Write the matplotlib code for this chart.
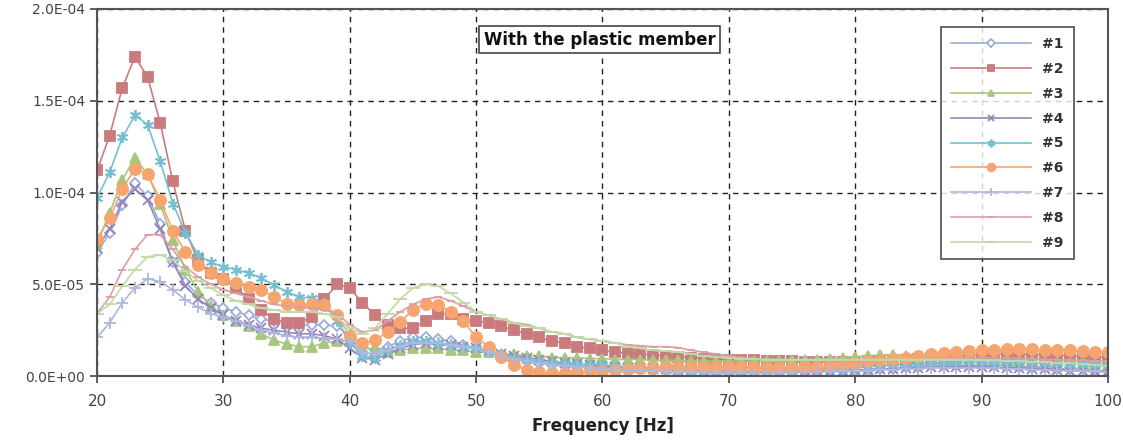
import matplotlib
matplotlib.use("Agg")
import matplotlib.pyplot as plt
from matplotlib.ticker import FuncFormatter

# frequencies [Hz]
freq = list(range(20, 101))

# amplitudes in units of 1e-5
s1 = [6.7, 7.8, 9.3, 10.5, 9.8, 8.3, 6.2, 5.1, 4.4, 4.0,
      3.7, 3.5, 3.3, 3.1, 3.0, 2.9, 2.8, 2.8, 2.8, 2.7,
      2.2, 1.6, 1.4, 1.6, 1.9, 2.1, 2.1, 2.0, 1.9, 1.7,
      1.5, 1.3, 1.1, 0.9, 0.8, 0.7, 0.6, 0.6, 0.5, 0.5,
      0.5, 0.4, 0.4, 0.4, 0.3, 0.3, 0.3, 0.3, 0.2, 0.2,
      0.2, 0.2, 0.2, 0.2, 0.2, 0.2, 0.2, 0.2, 0.3, 0.3,
      0.3, 0.3, 0.4, 0.4, 0.5, 0.5, 0.6, 0.6, 0.6, 0.6,
      0.6, 0.6, 0.6, 0.5, 0.5, 0.5, 0.4, 0.4, 0.4, 0.3,
      0.3]
s2 = [11.2, 13.1, 15.7, 17.4, 16.3, 13.8, 10.6, 7.9, 6.3, 5.6,
      5.3, 4.8, 4.2, 3.6, 3.1, 2.9, 2.9, 3.2, 4.2, 5.0,
      4.8, 4.0, 3.3, 2.8, 2.6, 2.6, 3.0, 3.4, 3.4, 3.1,
      3.0, 2.9, 2.7, 2.5, 2.3, 2.1, 1.9, 1.8, 1.6, 1.5,
      1.4, 1.3, 1.25, 1.2, 1.15, 1.1, 1.05, 1.0, 0.95, 0.9,
      0.9, 0.85, 0.85, 0.8, 0.8, 0.8, 0.75, 0.75, 0.75, 0.75,
      0.75, 0.8, 0.8, 0.85, 0.9, 0.95, 1.0, 1.05, 1.1, 1.15,
      1.15, 1.2, 1.2, 1.2, 1.2, 1.15, 1.15, 1.1, 1.1, 1.05,
      1.0]
s3 = [7.2, 8.9, 10.7, 11.9, 11.0, 9.4, 7.4, 5.8, 4.6, 3.8,
      3.3, 3.0, 2.7, 2.3, 1.95, 1.75, 1.6, 1.6, 1.8, 1.9,
      1.9, 1.6, 1.4, 1.3, 1.4, 1.5, 1.5, 1.5, 1.4, 1.4,
      1.3, 1.3, 1.2, 1.2, 1.1, 1.1, 1.0, 1.0, 1.0, 0.95,
      0.95, 0.9, 0.9, 0.9, 0.85, 0.85, 0.85, 0.8, 0.8, 0.8,
      0.8, 0.8, 0.8, 0.8, 0.8, 0.85, 0.85, 0.9, 0.95, 1.0,
      1.05, 1.1, 1.15, 1.15, 1.1, 1.05, 1.0, 1.0, 0.95, 0.9,
      0.9, 0.85, 0.85, 0.8, 0.8, 0.75, 0.75, 0.7, 0.7, 0.65,
      0.6]
s4 = [7.0, 8.0, 9.5, 10.2, 9.6, 8.0, 6.2, 4.9, 4.2, 3.7,
      3.3, 3.0, 2.8, 2.6, 2.5, 2.4, 2.3, 2.3, 2.2, 2.0,
      1.5, 1.0, 0.9, 1.2, 1.5, 1.7, 1.8, 1.7, 1.7, 1.6,
      1.5, 1.4, 1.2, 1.1, 1.0, 0.9, 0.8, 0.7, 0.65, 0.6,
      0.55, 0.5, 0.45, 0.45, 0.4, 0.4, 0.35, 0.35, 0.3, 0.3,
      0.3, 0.25, 0.25, 0.25, 0.25, 0.25, 0.25, 0.3, 0.3, 0.3,
      0.35, 0.35, 0.4, 0.4, 0.45, 0.45, 0.5, 0.5, 0.5, 0.5,
      0.5, 0.5, 0.45, 0.45, 0.4, 0.4, 0.35, 0.3, 0.3, 0.25,
      0.25]
s5 = [9.7, 11.1, 13.0, 14.2, 13.7, 11.7, 9.4, 7.8, 6.6, 6.2,
      5.95, 5.8, 5.6, 5.35, 4.95, 4.6, 4.3, 4.25, 4.0, 3.0,
      1.8, 1.1, 1.0, 1.4, 1.7, 1.9, 1.9, 1.8, 1.7, 1.6,
      1.5, 1.3, 1.2, 1.0, 0.9, 0.8, 0.7, 0.7, 0.65, 0.6,
      0.6, 0.55, 0.5, 0.5, 0.45, 0.4, 0.35, 0.3, 0.3, 0.25,
      0.25, 0.25, 0.25, 0.25, 0.3, 0.3, 0.35, 0.35, 0.4, 0.4,
      0.45, 0.5, 0.55, 0.6, 0.6, 0.65, 0.7, 0.7, 0.75, 0.75,
      0.75, 0.75, 0.75, 0.75, 0.7, 0.7, 0.7, 0.65, 0.65, 0.6,
      0.6]
s6 = [7.45, 8.6, 10.2, 11.3, 11.0, 9.6, 7.9, 6.75, 6.05, 5.6,
      5.3, 5.05, 4.85, 4.7, 4.3, 3.95, 3.85, 3.9, 3.85, 3.3,
      2.2, 1.8, 1.95, 2.4, 2.95, 3.6, 3.95, 3.85, 3.5, 3.0,
      2.1, 1.6, 1.05, 0.6, 0.33, 0.2, 0.15, 0.15, 0.2, 0.25,
      0.3, 0.35, 0.4, 0.45, 0.45, 0.5, 0.5, 0.5, 0.5, 0.5,
      0.5, 0.5, 0.45, 0.45, 0.45, 0.45, 0.5, 0.5, 0.55, 0.6,
      0.7, 0.8, 0.9, 0.95, 1.0, 1.1, 1.2, 1.25, 1.3, 1.35,
      1.4, 1.4, 1.45, 1.45, 1.45, 1.4, 1.4, 1.4, 1.35, 1.3,
      1.3]
s7 = [2.1, 2.9, 4.0, 4.8, 5.3, 5.15, 4.7, 4.15, 3.75, 3.4,
      3.2, 3.0, 2.75, 2.5, 2.35, 2.2, 2.1, 2.1, 2.05, 2.0,
      1.9, 1.3, 1.2, 1.4, 1.6, 1.8, 1.8, 1.8, 1.7, 1.6,
      1.5, 1.3, 1.1, 0.95, 0.8, 0.7, 0.6, 0.55, 0.5, 0.45,
      0.4, 0.35, 0.3, 0.3, 0.25, 0.25, 0.2, 0.2, 0.2, 0.15,
      0.15, 0.15, 0.15, 0.15, 0.2, 0.2, 0.2, 0.2, 0.25, 0.25,
      0.3, 0.3, 0.35, 0.35, 0.4, 0.4, 0.45, 0.45, 0.45, 0.45,
      0.45, 0.45, 0.4, 0.4, 0.35, 0.35, 0.3, 0.3, 0.25, 0.25,
      0.2]
s8 = [3.4, 4.3, 5.8, 6.9, 7.7, 7.7, 6.9, 5.95, 5.4, 5.0,
      4.7, 4.5, 4.3, 4.1, 3.9, 3.8, 3.75, 3.7, 3.6, 3.4,
      2.8, 2.4, 2.5, 3.0, 3.5, 3.9, 4.2, 4.3, 4.1, 3.8,
      3.5, 3.3, 3.1, 2.9, 2.8, 2.6, 2.4, 2.3, 2.1, 2.0,
      1.9, 1.8, 1.7, 1.65, 1.6, 1.6, 1.55, 1.4, 1.3, 1.2,
      1.1, 1.0, 0.95, 0.9, 0.9, 0.85, 0.85, 0.8, 0.8, 0.8,
      0.8, 0.8, 0.85, 0.85, 0.9, 0.9, 0.95, 0.95, 1.0, 1.0,
      1.0, 1.0, 1.0, 0.95, 0.95, 0.9, 0.9, 0.85, 0.85, 0.8,
      0.8]
s9 = [3.4, 3.9, 4.9, 5.8, 6.5, 6.6, 6.3, 5.7, 5.2, 4.8,
      4.4, 4.1, 3.9, 3.7, 3.6, 3.5, 3.5, 3.5, 3.4, 3.2,
      2.6, 2.3, 2.6, 3.4, 4.2, 4.8, 5.0, 4.9, 4.5, 4.0,
      3.5, 3.3, 3.1, 2.9, 2.7, 2.6, 2.4, 2.3, 2.1, 2.0,
      1.9, 1.8, 1.6, 1.5, 1.4, 1.35, 1.3, 1.2, 1.1, 1.05,
      1.0, 0.95, 0.95, 0.9, 0.9, 0.9, 0.9, 0.9, 0.9, 0.9,
      0.9, 0.9, 0.9, 0.9, 0.9, 0.9, 0.9, 0.9, 0.9, 0.9,
      0.85, 0.85, 0.8, 0.8, 0.75, 0.75, 0.7, 0.7, 0.65, 0.6,
      0.55]

series = [s1, s2, s3, s4, s5, s6, s7, s8, s9]
labels = ['#1', '#2', '#3', '#4', '#5', '#6', '#7', '#8', '#9']

# style per series (colour, marker, size, face)
styles = [
    ('#9aaedb', 'D', 5.5, 'white'),
    ('#c97b7e', 's', 7, None),
    ('#a8c67c', '^', 7, None),
    ('#9585bd', 'x', 7, None),
    ('#74bfd1', (6, 2, 0), 8, None),
    ('#f6a56e', 'o', 8, None),
    ('#aeb8df', '+', 9, None),
    ('#dc9ea2', '_', 6, None),
    ('#c2d8a6', '_', 10, None),
]

fig = plt.figure(figsize=(11.23, 4.43), dpi=100)
ax = fig.add_axes([0.0864, 0.1512, 0.9002, 0.8285])

for vals, lab, (col, mk, ms, fc) in zip(series, labels, styles):
    y = [v * 1e-5 for v in vals]
    ax.plot(freq, y, color=col, lw=1.2, marker=mk, ms=ms,
            mfc=fc if fc else col, mec=col, mew=1.3, label=lab)

ax.set_xlim(20, 100)
ax.set_ylim(0, 2.0e-4)
ax.set_xticks(range(20, 101, 10))
ax.set_yticks([0, 5e-5, 1e-4, 1.5e-4, 2e-4])
ax.yaxis.set_major_formatter(FuncFormatter(lambda v, p: f'{v:.1E}'))
ax.grid(True, color='#222222', ls=(0, (4, 3.5)), lw=1.0)

for sp in ax.spines.values():
    sp.set_color('#555555')
    sp.set_linewidth(1.5)
ax.tick_params(axis='both', colors='#444444', labelsize=10, length=5, width=1.2)
ax.tick_params(axis='x', pad=8, labelsize=11)

ax.set_xlabel('Frequency [Hz]', fontsize=12, fontweight='bold', color='#222222', labelpad=6)

ax.text(0.497, 0.916, 'With the plastic member', transform=ax.transAxes,
        ha='center', va='center', fontsize=12, fontweight='bold', color='#111111',
        bbox=dict(boxstyle='square,pad=0.28', fc='white', ec='#444444', lw=1.2))

leg = ax.legend(loc='upper right', bbox_to_anchor=(0.966, 0.95), fontsize=10,
                frameon=True, fancybox=False, edgecolor='#333333', labelspacing=0.78,
                handlelength=5.8, borderpad=0.7, borderaxespad=0, markerscale=0.7)
leg.get_frame().set_linewidth(1.3)
for t in leg.get_texts():
    t.set_color('#333333')
    t.set_fontweight('bold')

fig.savefig('out.png', dpi=100)
